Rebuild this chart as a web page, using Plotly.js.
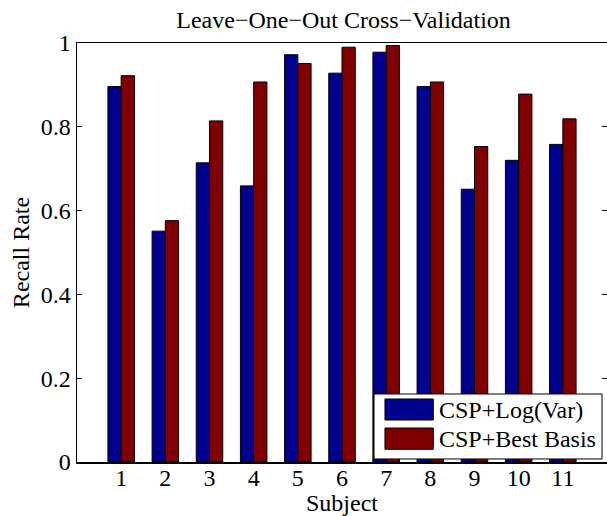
<!DOCTYPE html>
<html>
<head>
<meta charset="utf-8">
<script src="https://cdn.plot.ly/plotly-3.0.1.min.js"></script>
<style>html,body{margin:0;padding:0;background:#fff;}#chart{width:607px;height:516px;}</style>
</head>
<body>
<div id="chart"></div>
<script>
const subjects = [1, 2, 3, 4, 5, 6, 7, 8, 9, 10, 11];
const cspLogVar = [0.896, 0.551, 0.714, 0.659, 0.972, 0.928, 0.978, 0.896, 0.651, 0.720, 0.758];
const cspBestBasis = [0.922, 0.576, 0.814, 0.907, 0.951, 0.990, 0.994, 0.907, 0.753, 0.878, 0.819];
const seriesNames = ["CSP+Log(Var)", "CSP+Best Basis"];
const yTicks = [0, 0.2, 0.4, 0.6, 0.8, 1];
const yTickLabels = ["0", "0.2", "0.4", "0.6", "0.8", "1"];

const blue = "#00008F";
const red = "#800000";
const font = {family: "Liberation Serif, Times New Roman, serif", size: 24, color: "#000"};

const traces = [
  {type: "bar", x: subjects, y: cspLogVar, name: seriesNames[0],
   marker: {color: blue, line: {color: "#000", width: 1}}, showlegend: false},
  {type: "bar", x: subjects, y: cspBestBasis, name: seriesNames[1],
   marker: {color: red, line: {color: "#000", width: 1}}, showlegend: false}
];

// custom MATLAB-style legend (paper coordinates)
const lg = {x0: 0.5604, x1: 0.9906, y0: 0.0072, y1: 0.1623};
const patches = [
  {y0: 0.1002, y1: 0.1504, color: blue, ty: 0.1241},
  {y0: 0.0303, y1: 0.0811, color: red, ty: 0.0556}
];
const shapes = [
  {type: "rect", xref: "paper", yref: "paper", x0: lg.x0, x1: lg.x1, y0: lg.y0, y1: lg.y1,
   fillcolor: "#fff", line: {color: "#000", width: 1}, layer: "above"}
];
const annotations = [];
patches.forEach((p, i) => {
  shapes.push({type: "rect", xref: "paper", yref: "paper", x0: 0.5811, x1: 0.6723, y0: p.y0, y1: p.y1,
    fillcolor: p.color, line: {color: "#000", width: 1}, layer: "above"});
  annotations.push({xref: "paper", yref: "paper", x: 0.6787, y: p.ty, xanchor: "left", yanchor: "middle",
    text: seriesNames[i], showarrow: false, font: font});
});

const layout = {
  width: 607, height: 516,
  margin: {l: 77, r: 0, t: 43, b: 54},
  paper_bgcolor: "#fff", plot_bgcolor: "#fff",
  font: font,
  title: {text: "Leave\u2212One\u2212Out Cross\u2212Validation", font: font,
          x: 0.566, xanchor: "center", y: 0.962, yanchor: "middle"},
  barmode: "group", bargap: 0.4, bargroupgap: 0,
  xaxis: {range: [0, 12], tickvals: subjects, ticktext: subjects.map(String),
          ticks: "inside", ticklen: 5, tickcolor: "#000", showline: true, linecolor: "#000", linewidth: 1.5,
          mirror: true, showgrid: false, zeroline: false, tickfont: font, ticklabelstandoff: -6,
          title: {text: "Subject", font: font, standoff: 0}},
  yaxis: {range: [0, 1], tickvals: yTicks, ticktext: yTickLabels,
          ticks: "inside", ticklen: 5, tickcolor: "#000", showline: true, linecolor: "#000", linewidth: 1.5,
          mirror: "ticks", showgrid: false, zeroline: false, tickfont: font,
          title: {text: "Recall Rate", font: font, standoff: 4}},
  shapes: shapes,
  annotations: annotations
};

Plotly.newPlot("chart", traces, layout, {staticPlot: true, displayModeBar: false});
</script>
</body>
</html>
